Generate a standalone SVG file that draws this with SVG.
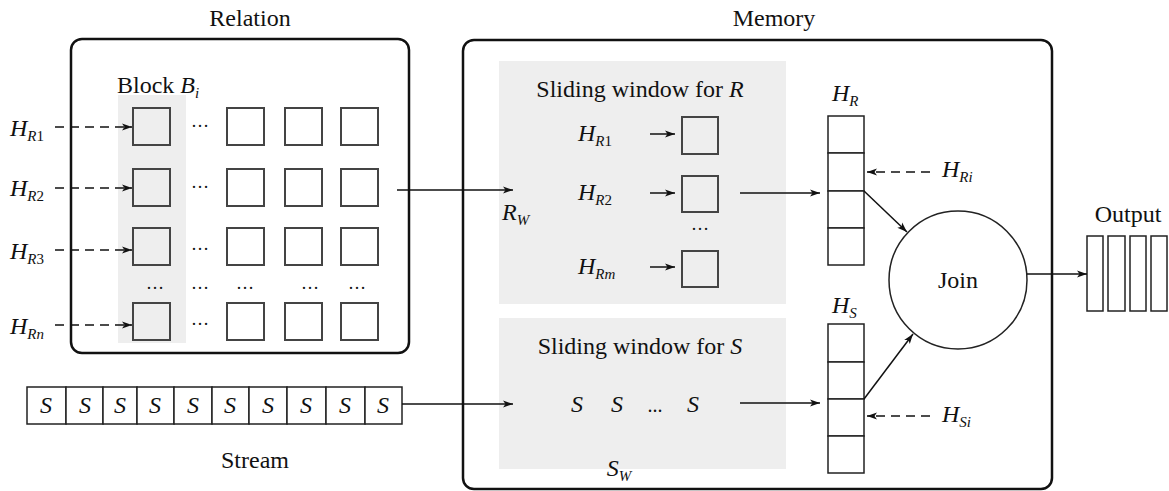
<svg xmlns="http://www.w3.org/2000/svg" width="1169" height="491" viewBox="0 0 1169 491">
<style>
text{font-family:"Liberation Serif","Times New Roman",serif;font-size:24px;fill:#111}
.it{font-style:italic}
.sub{font-size:15px;font-style:italic}
.num{font-size:15px;font-style:normal}
.frame{fill:none;stroke:#111;stroke-width:2.5}
.sq{fill:none;stroke:#444;stroke-width:2}
.cell{fill:#fff;stroke:#222;stroke-width:1.5}
.gray{fill:#eeeeee;stroke:none}
.ln{stroke:#111;stroke-width:1.5;fill:none;marker-end:url(#ah)}
.dash{stroke:#111;stroke-width:1.5;fill:none;stroke-dasharray:9 6;marker-end:url(#ah)}
.dots{font-size:18px}
</style>
<defs>
<marker id="ah" viewBox="0 0 10 8" refX="10" refY="4" markerWidth="11" markerHeight="8" markerUnits="userSpaceOnUse" orient="auto">
<path d="M0,0.5 L10,4 L0,7.5 L2.5,4 Z" fill="#111"/>
</marker>
</defs>

<g id="relation">
<text x="250" y="26" text-anchor="middle">Relation</text>
<rect class="frame" x="71" y="39" width="338" height="314" rx="11"/>
<rect class="gray" x="118" y="95" width="68" height="248"/>
<text x="117" y="93">Block <tspan class="it">B</tspan><tspan class="sub" dy="5">i</tspan></text>
<g>
<rect class="sq" x="133" y="108" width="37" height="37"/>
<rect class="sq" x="227" y="108" width="37" height="37"/>
<rect class="sq" x="285" y="108" width="37" height="37"/>
<rect class="sq" x="341" y="108" width="37" height="37"/>
<rect class="sq" x="133" y="169" width="37" height="37"/>
<rect class="sq" x="227" y="169" width="37" height="37"/>
<rect class="sq" x="285" y="169" width="37" height="37"/>
<rect class="sq" x="341" y="169" width="37" height="37"/>
<rect class="sq" x="133" y="228" width="37" height="37"/>
<rect class="sq" x="227" y="228" width="37" height="37"/>
<rect class="sq" x="285" y="228" width="37" height="37"/>
<rect class="sq" x="341" y="228" width="37" height="37"/>
<rect class="sq" x="133" y="303" width="37" height="37"/>
<rect class="sq" x="227" y="303" width="37" height="37"/>
<rect class="sq" x="285" y="303" width="37" height="37"/>
<rect class="sq" x="341" y="303" width="37" height="37"/>
</g>
<text class="dots" x="200" y="127" text-anchor="middle">…</text>
<text class="dots" x="200" y="188" text-anchor="middle">…</text>
<text class="dots" x="200" y="250" text-anchor="middle">…</text>
<text class="dots" x="200" y="325" text-anchor="middle">…</text>
<text class="dots" x="155" y="289" text-anchor="middle">…</text>
<text class="dots" x="200" y="289" text-anchor="middle">…</text>
<text class="dots" x="245" y="289" text-anchor="middle">…</text>
<text class="dots" x="310" y="289" text-anchor="middle">…</text>
<text class="dots" x="357" y="289" text-anchor="middle">…</text>
</g>

<g id="hr-labels">
<text x="10" y="136" class="it">H<tspan class="sub" dy="5">R</tspan><tspan class="num">1</tspan></text>
<text x="10" y="196" class="it">H<tspan class="sub" dy="5">R</tspan><tspan class="num">2</tspan></text>
<text x="10" y="259" class="it">H<tspan class="sub" dy="5">R</tspan><tspan class="num">3</tspan></text>
<text x="10" y="334" class="it">H<tspan class="sub" dy="5">Rn</tspan></text>
</g>

<g id="stream">
<g>
<rect class="cell" x="27" y="387" width="39" height="37"/>
<rect class="cell" x="66" y="387" width="37" height="37"/>
<rect class="cell" x="103" y="387" width="34" height="37"/>
<rect class="cell" x="137" y="387" width="37" height="37"/>
<rect class="cell" x="174" y="387" width="38" height="37"/>
<rect class="cell" x="212" y="387" width="37" height="37"/>
<rect class="cell" x="249" y="387" width="38" height="37"/>
<rect class="cell" x="287" y="387" width="39" height="37"/>
<rect class="cell" x="326" y="387" width="39" height="37"/>
<rect class="cell" x="365" y="387" width="37" height="37"/>
</g>
<g class="it" text-anchor="middle">
<text x="46" y="413">S</text>
<text x="85" y="413">S</text>
<text x="120" y="413">S</text>
<text x="155" y="413">S</text>
<text x="193" y="413">S</text>
<text x="230" y="413">S</text>
<text x="268" y="413">S</text>
<text x="306" y="413">S</text>
<text x="345" y="413">S</text>
<text x="383" y="413">S</text>
</g>
<text x="255" y="468" text-anchor="middle">Stream</text>
</g>

<g id="memory">
<text x="774" y="26" text-anchor="middle">Memory</text>
<rect class="frame" x="463" y="40" width="589" height="449" rx="11"/>
</g>

<g id="window-r">
<rect class="gray" x="499" y="61" width="287" height="243"/>
<text x="640" y="97" text-anchor="middle">Sliding window for <tspan class="it">R</tspan></text>
<text x="578" y="141" class="it">H<tspan class="sub" dy="5">R</tspan><tspan class="num">1</tspan></text>
<text x="578" y="200" class="it">H<tspan class="sub" dy="5">R</tspan><tspan class="num">2</tspan></text>
<text x="578" y="274" class="it">H<tspan class="sub" dy="5">Rm</tspan></text>
<rect class="sq" x="682" y="117" width="36" height="37"/>
<rect class="sq" x="682" y="176" width="36" height="36"/>
<rect class="sq" x="682" y="251" width="36" height="36"/>
<text class="dots" x="700" y="230" text-anchor="middle">…</text>
<text x="502" y="220" class="it">R<tspan class="sub" dy="5">W</tspan></text>
</g>

<g id="window-s">
<rect class="gray" x="499" y="318" width="287" height="151"/>
<text x="640" y="354" text-anchor="middle">Sliding window for <tspan class="it">S</tspan></text>
<g class="it" text-anchor="middle">
<text x="577" y="412">S</text>
<text x="617" y="412">S</text>
<text x="693" y="412">S</text>
</g>
<text x="655" y="412" text-anchor="middle" style="font-size:20px">...</text>
<text x="619" y="476" class="it" text-anchor="middle">S<tspan class="sub" dy="5">W</tspan></text>
</g>

<g id="hash-r">
<rect class="cell" x="828" y="116" width="36" height="37"/>
<rect class="cell" x="828" y="153" width="36" height="38"/>
<rect class="cell" x="828" y="191" width="36" height="37"/>
<rect class="cell" x="828" y="228" width="36" height="37"/>
<text x="832" y="101" class="it">H<tspan class="sub" dy="5">R</tspan></text>
<text x="942" y="177" class="it">H<tspan class="sub" dy="5">Ri</tspan></text>
</g>

<g id="hash-s">
<rect class="cell" x="828" y="324" width="36" height="38"/>
<rect class="cell" x="828" y="362" width="36" height="37"/>
<rect class="cell" x="828" y="399" width="36" height="37"/>
<rect class="cell" x="828" y="436" width="36" height="37"/>
<text x="832" y="313" class="it">H<tspan class="sub" dy="5">S</tspan></text>
<text x="942" y="422" class="it">H<tspan class="sub" dy="5">Si</tspan></text>
</g>

<g id="join">
<circle cx="958" cy="280" r="69" fill="#fff" stroke="#222" stroke-width="1.5"/>
<text x="958" y="288" text-anchor="middle">Join</text>
</g>

<g id="output">
<text x="1128" y="222" text-anchor="middle">Output</text>
<rect class="cell" x="1087" y="236" width="16" height="75"/>
<rect class="cell" x="1108" y="236" width="17" height="75"/>
<rect class="cell" x="1130" y="236" width="16" height="75"/>
<rect class="cell" x="1151" y="236" width="16" height="75"/>
</g>

<g id="connectors">
<line class="dash" x1="55" y1="127" x2="132" y2="127"/>
<line class="dash" x1="55" y1="188" x2="132" y2="188"/>
<line class="dash" x1="55" y1="250" x2="132" y2="250"/>
<line class="dash" x1="55" y1="325" x2="132" y2="325"/>
<line class="ln" x1="397" y1="190" x2="513" y2="190"/>
<line class="ln" x1="402" y1="404" x2="513" y2="404"/>
<line class="ln" x1="650" y1="134" x2="675" y2="134"/>
<line class="ln" x1="650" y1="193" x2="675" y2="193"/>
<line class="ln" x1="650" y1="267" x2="675" y2="267"/>
<line class="ln" x1="740" y1="193" x2="820" y2="193"/>
<line class="ln" x1="740" y1="403" x2="820" y2="403"/>
<line class="dash" x1="930" y1="172" x2="867" y2="172"/>
<line class="dash" x1="930" y1="416" x2="867" y2="416"/>
<line class="ln" x1="864" y1="191" x2="907" y2="232"/>
<line class="ln" x1="864" y1="399" x2="913" y2="334"/>
<line class="ln" x1="1027" y1="274" x2="1087" y2="274"/>
</g>
</svg>
